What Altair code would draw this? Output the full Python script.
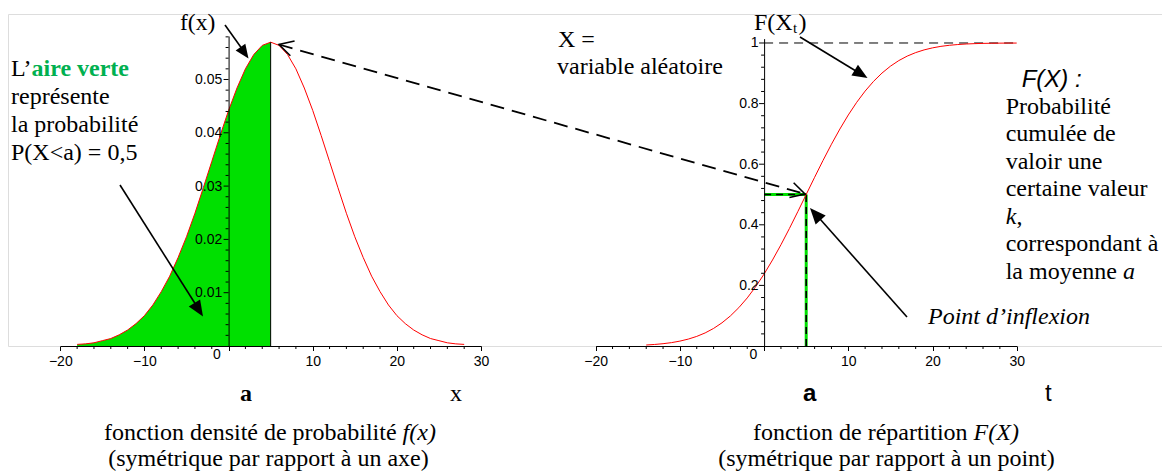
import altair as alt
import pandas as pd

# ---------------- data ----------------
dens_x = list(range(-18, 29))
dens_y = [0.0003, 0.0004, 0.0006, 0.0010, 0.0014, 0.0021, 0.0030, 0.0042, 0.0057, 0.0077,
          0.0102, 0.0131, 0.0166, 0.0205, 0.0249, 0.0297, 0.0346, 0.0395, 0.0442, 0.0484,
          0.0520, 0.0547, 0.0564, 0.0570, 0.0564, 0.0547, 0.0520, 0.0484, 0.0442, 0.0395,
          0.0346, 0.0297, 0.0249, 0.0205, 0.0166, 0.0131, 0.0102, 0.0077, 0.0057, 0.0042,
          0.0030, 0.0021, 0.0014, 0.0010, 0.0006, 0.0004, 0.0003]
cdf_x = list(range(-14, 31))
cdf_y = [0.0033, 0.0051, 0.0076, 0.0111, 0.0161, 0.0228, 0.0317, 0.0432, 0.0580, 0.0766,
         0.0993, 0.1266, 0.1587, 0.1957, 0.2375, 0.2839, 0.3341, 0.3875, 0.4432, 0.5000,
         0.5568, 0.6125, 0.6659, 0.7161, 0.7625, 0.8043, 0.8413, 0.8734, 0.9007, 0.9234,
         0.9420, 0.9568, 0.9683, 0.9772, 0.9839, 0.9889, 0.9924, 0.9949, 0.9967, 0.9979,
         0.9987, 0.9992, 0.9995, 0.9997, 0.9998]
mean_a = 5
peak = 0.0570
half = 0.5
cdf_top = 1.0

x_major = [-20, -10, 0, 10, 20, 30]
x_minor = [v for v in range(-18, 30, 2) if v % 10 != 0]
ly_major = [0.01, 0.02, 0.03, 0.04, 0.05]
ly_minor = [round(0.002 * i, 3) for i in range(1, 30) if i % 5 != 0]
ry_major = [0.2, 0.4, 0.6, 0.8, 1.0]
ry_minor = [round(0.04 * i, 2) for i in range(1, 25) if i % 5 != 0]

# ---------------- layout (view pixels) ----------------
TOP = 6
L_XDOM, L_XR = [-20, 30], [52.3, 473.0]
L_YDOM, L_YR = [0, 0.05816], [338 - TOP, 28 - TOP]
R_XDOM, R_XR = [-20, 30], [587.7, 1008.7]
R_YDOM, R_YR = [0, 1.0145], [338 - TOP, 30.6 - TOP]

SERIF = "Liberation Serif"
SANS = "Liberation Sans"
RED = "#FF0000"
GREEN = "#00E000"
TXTGREEN = "#00B050"


def axis_x():
    return alt.Axis(orient="bottom", values=x_major,
                    labelExpr="datum.value == 0 ? '' : datum.label",
                    tickSize=4.5, tickColor="black", domainColor="black",
                    labelFont=SANS, labelFontSize=14, labelColor="black",
                    labelPadding=4, labelFlush=False, labelOverlap=False,
                    grid=False, title=None, zindex=1)


def axis_y(vals, off, pad):
    return alt.Axis(orient="left", offset=off, values=vals, format="~g",
                    tickSize=5, tickOpacity=0, domainColor="black",
                    labelFont=SANS, labelFontSize=14, labelColor="black",
                    labelPadding=pad, labelOverlap=False, labelFlush=False,
                    grid=False, title=None, zindex=1)


LAX = axis_x()
LAY = axis_y(ly_major, -220.58, 1.8)
RAX = axis_x()
RAY = axis_y(ry_major, -756.1, 1.0)


def LX(f):
    return alt.X(f, type="quantitative", axis=LAX,
                 scale=alt.Scale(domain=L_XDOM, range=L_XR, nice=False, zero=False))


def LY(f):
    return alt.Y(f, type="quantitative", axis=LAY,
                 scale=alt.Scale(domain=L_YDOM, range=L_YR, nice=False, zero=False))


def RX(f):
    return alt.X(f, type="quantitative", axis=RAX,
                 scale=alt.Scale(domain=R_XDOM, range=R_XR, nice=False, zero=False))


def RY(f):
    return alt.Y(f, type="quantitative", axis=RAY,
                 scale=alt.Scale(domain=R_YDOM, range=R_YR, nice=False, zero=False))


dens = pd.DataFrame({"x": dens_x, "y": dens_y})
area_df = dens[dens["x"] <= mean_a]
cdf = pd.DataFrame({"x": cdf_x, "y": cdf_y})

# ---------------- left panel ----------------
l_area = alt.Chart(area_df).mark_area(color=GREEN, opacity=1).encode(x=LX("x"), y=LY("y"))
l_line = alt.Chart(dens).mark_line(color=RED, strokeWidth=1).encode(x=LX("x"), y=LY("y"))
l_mean = alt.Chart(pd.DataFrame({"x": [mean_a], "y": [0], "y2": [peak]})).mark_rule(
    color="black", strokeWidth=1).encode(x=LX("x"), y=LY("y"), y2="y2")
l_ymaj = alt.Chart(pd.DataFrame({"z": [0] * len(ly_major), "v": ly_major})).mark_rule(
    color="black", strokeWidth=1, xOffset=-5).encode(x=LX("z"), x2="z", y=LY("v"))
l_ymin = alt.Chart(pd.DataFrame({"z": [0] * len(ly_minor), "v": ly_minor})).mark_rule(
    color="black", strokeWidth=1, xOffset=-3).encode(x=LX("z"), x2="z", y=LY("v"))
l_xmin = alt.Chart(pd.DataFrame({"v": x_minor, "z": [0] * len(x_minor)})).mark_rule(
    color="black", strokeWidth=1, y2Offset=3).encode(x=LX("v"), y=LY("z"), y2="z")
l_zero = alt.Chart(pd.DataFrame({"x": [0], "y": [0], "t": ["0"]})).mark_text(
    font=SANS, fontSize=14, color="black", dx=-11.8, dy=9).encode(x=LX("x"), y=LY("y"), text="t:N")
left = alt.layer(l_area, l_line, l_mean, l_ymaj, l_ymin, l_xmin, l_zero)

# ---------------- right panel ----------------
r_top = alt.Chart(pd.DataFrame({"x": [0], "x2": [30], "y": [cdf_top]})).mark_rule(
    color="black", strokeWidth=1, strokeDash=[9, 6]).encode(x=RX("x"), x2="x2", y=RY("y"))
gh = pd.DataFrame({"x": [0], "x2": [mean_a], "y": [half]})
gv = pd.DataFrame({"x": [mean_a], "y": [0], "y2": [half]})
r_gh = alt.Chart(gh).mark_rule(color=GREEN, strokeWidth=3).encode(x=RX("x"), x2="x2", y=RY("y"))
r_gv = alt.Chart(gv).mark_rule(color=GREEN, strokeWidth=3).encode(x=RX("x"), y=RY("y"), y2="y2")
r_gh2 = alt.Chart(gh).mark_rule(color="black", strokeWidth=1.6, strokeDash=[7, 5]).encode(
    x=RX("x"), x2="x2", y=RY("y"))
r_gv2 = alt.Chart(gv).mark_rule(color="black", strokeWidth=1.6, strokeDash=[7, 5]).encode(
    x=RX("x"), y=RY("y"), y2="y2")
r_line = alt.Chart(cdf).mark_line(color=RED, strokeWidth=1).encode(x=RX("x"), y=RY("y"))
r_ymaj = alt.Chart(pd.DataFrame({"z": [0] * len(ry_major), "v": ry_major})).mark_rule(
    color="black", strokeWidth=1, xOffset=-5).encode(x=RX("z"), x2="z", y=RY("v"))
r_ymin = alt.Chart(pd.DataFrame({"z": [0] * len(ry_minor), "v": ry_minor})).mark_rule(
    color="black", strokeWidth=1, xOffset=-3).encode(x=RX("z"), x2="z", y=RY("v"))
r_xmin = alt.Chart(pd.DataFrame({"v": x_minor, "z": [0] * len(x_minor)})).mark_rule(
    color="black", strokeWidth=1, y2Offset=3).encode(x=RX("v"), y=RY("z"), y2="z")
r_zero = alt.Chart(pd.DataFrame({"x": [0], "y": [0], "t": ["0"]})).mark_text(
    font=SANS, fontSize=14, color="black", dx=-10.8, dy=9).encode(x=RX("x"), y=RY("y"), text="t:N")
right = alt.layer(r_top, r_gh, r_gv, r_gh2, r_gv2, r_line, r_ymaj, r_ymin, r_xmin, r_zero)

# ---------------- annotations (page pixel positions, shifted by margin + top padding) ----------------
MX = 8
MY = 8 + TOP


def PX(f):
    return alt.X(f, type="quantitative", scale=None, axis=None)


def PY(f):
    return alt.Y(f, type="quantitative", scale=None, axis=None)


def texts(rows, **kw):
    df = pd.DataFrame(rows, columns=["px", "py", "txt"])
    df["px"] = df["px"] - MX
    df["py"] = df["py"] - MY
    base = dict(align="left", baseline="alphabetic", font=SERIF, fontSize=24, color="black")
    base.update(kw)
    return alt.Chart(df).mark_text(**base).encode(x=PX("px"), y=PY("py"), text="txt:N")


def segs(rows, **kw):
    df = pd.DataFrame(rows, columns=["x", "y", "x2", "y2"])
    df[["x", "x2"]] = df[["x", "x2"]] - MX
    df[["y", "y2"]] = df[["y", "y2"]] - MY
    return alt.Chart(df).mark_rule(**kw).encode(x=PX("x"), y=PY("y"), x2="x2", y2="y2")


def heads(rows, shape, filled, **kw):
    df = pd.DataFrame(rows, columns=["x", "y", "ang", "s"])
    df["x"] = df["x"] - MX
    df["y"] = df["y"] - MY
    return alt.Chart(df).mark_point(shape=shape, filled=filled, color="black", opacity=1, **kw).encode(
        x=PX("x"), y=PY("y"), angle=alt.Angle("ang:Q", scale=None), size=alt.Size("s:Q", scale=None))


arrow_lines = segs([(225, 25, 245, 53), (120, 185, 196, 305), (800, 37, 860, 73.5),
                    (907, 317, 816, 214.5)], color="black", strokeWidth=1.6)
fill_heads = heads([(248.5, 58.5, 55.1, 28 ** 2), (203, 316.5, 57.6, 32 ** 2),
                    (867.5, 78, 31.3, 30 ** 2), (810, 208, 228.3, 32 ** 2)],
                   "M0,0L-1,-0.42L-1,0.42Z", True)
dash_line = segs([(279, 44.5, 805, 194)], color="black", strokeWidth=1.8, strokeDash=[14, 8])
open_heads = heads([(805, 194, 15.9, 28 ** 2), (279, 44.5, 195.9, 28 ** 2)],
                   "M-1,-0.55L0,0L-1,0.55", False, strokeWidth=1.6)

t_serif = texts([
    (11, 76, "L\u2019"),
    (11, 104, "représente"),
    (11, 132, "la probabilité"),
    (11, 160, "P(X<a) = 0,5"),
    (558, 47, "X ="),
    (557, 74, "variable aléatoire"),
    (754, 29.5, "F(X"),
    (798.5, 29.5, ")"),
    (1005.7, 113.5, "Probabilité"),
    (1005.7, 141, "cumulée de"),
    (1005.7, 168.5, "valoir une"),
    (1005.7, 196, "certaine valeur"),
    (1016.4, 223.5, ","),
    (1005.7, 251, "correspondant à"),
    (1005.7, 278.5, "la moyenne"),
    (104, 440, "fonction densité de probabilité"),
    (753, 440, "fonction de répartition"),
])
t_fx = texts([(180, 29.5, "f(x)")], fontSize=23.5)
t_sub = texts([(793, 33, "t")], fontSize=15)
t_green = texts([(31.5, 76, "aire verte")], fontWeight="bold", color=TXTGREEN)
t_ital = texts([
    (1005.7, 223.5, "k"),
    (1123, 278.5, "a"),
    (928, 323.5, "Point d\u2019inflexion"),
    (402.6, 440, "f(x)"),
    (973.6, 440, "F(X)"),
], fontStyle="italic")
t_center = texts([
    (456, 401, "x"),
    (268.5, 466, "(symétrique par rapport à un axe)"),
    (886.5, 466, "(symétrique par rapport à un point)"),
], align="center")
t_boldA = texts([(246, 401, "a")], align="center", fontWeight="bold")
t_sansA = texts([(809.7, 401, "a")], align="center", font=SANS, fontWeight="bold")
t_sansT = texts([(1048.4, 401, "t")], align="center", font=SANS)
t_FX = texts([(1021.7, 86.5, "F(X) :")], font=SANS, fontStyle="italic")

chart = alt.layer(
    left, right, dash_line, open_heads, arrow_lines, fill_heads,
    t_serif, t_fx, t_sub, t_green, t_ital, t_center, t_boldA, t_sansA, t_sansT, t_FX,
).resolve_scale(x="independent", y="independent").properties(
    width=1154, height=338 - TOP,
    autosize=alt.AutoSizeParams(type="none"),
    padding={"left": 0, "top": TOP, "right": 0, "bottom": 127},
).configure_view(stroke=None).configure(background="white")

chart.save("out.html", embed_options={"renderer": "svg", "actions": False})
